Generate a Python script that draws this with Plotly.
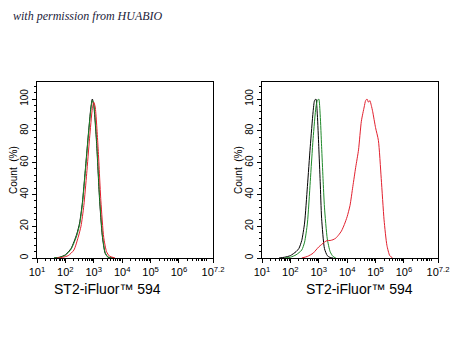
import math
import plotly.graph_objects as go

# ---- data (x = log10 fluorescence intensity, y = Count %) ----
left_black_x = [1.6, 1.8, 2.0, 2.2, 2.4, 2.5, 2.6, 2.7, 2.8, 2.9, 2.95, 3.0, 3.1, 3.2, 3.3, 3.4, 3.5, 3.7]
left_black_y = [0, 0.5, 2, 6, 15, 22, 35, 55, 76, 95, 100, 96, 72, 38, 14, 3, 0.5, 0]
left_green_x = [1.6, 1.8, 2.0, 2.2, 2.4, 2.5, 2.6, 2.7, 2.8, 2.9, 2.95, 3.0, 3.1, 3.2, 3.3, 3.4, 3.5, 3.7]
left_green_y = [0, 0.4, 1.8, 5.5, 14, 21, 34, 54, 75, 94, 99, 97, 74, 40, 15, 3.5, 0.6, 0]
left_red_x = [1.7, 1.9, 2.1, 2.3, 2.45, 2.55, 2.65, 2.75, 2.85, 2.95, 3.0, 3.05, 3.15, 3.25, 3.35, 3.45, 3.55, 3.75]
left_red_y = [0, 0.4, 1.5, 5, 13, 20, 33, 53, 75, 94, 98, 95, 70, 36, 13, 4, 1.2, 0]

right_black_x = [1.6, 1.8, 2.0, 2.2, 2.3, 2.4, 2.5, 2.6, 2.7, 2.8, 2.85, 2.9, 2.95, 3.0, 3.05, 3.1, 3.2, 3.3, 3.4, 3.5]
right_black_y = [0, 0.5, 1.5, 4, 6, 11, 22, 45, 70, 92, 99, 100, 90, 70, 48, 25, 6, 1.5, 0.3, 0]
right_green_x = [1.8, 2.0, 2.2, 2.4, 2.5, 2.6, 2.7, 2.8, 2.9, 2.95, 3.0, 3.05, 3.1, 3.15, 3.2, 3.3, 3.4, 3.5, 3.6]
right_green_y = [0, 0.5, 2, 5, 10, 22, 48, 75, 95, 99, 100, 90, 70, 50, 32, 12, 4, 1, 0]
right_red_x = [2.4, 2.6, 2.8, 2.9, 3.0, 3.1, 3.2, 3.3, 3.4, 3.5, 3.6, 3.7, 3.8, 3.9, 4.0, 4.1, 4.2, 4.3,
               4.4, 4.5, 4.6, 4.65, 4.7, 4.75, 4.8, 4.85, 4.9, 5.0, 5.1, 5.2, 5.3, 5.4, 5.5, 5.6]
right_red_y = [0, 1, 3, 5, 7, 8.5, 10, 11, 11, 11.5, 12.5, 14.5, 17, 21, 26, 33, 45, 57,
               68, 86, 95, 99, 100, 98, 99, 96, 92, 82, 74, 50, 24, 8, 1.5, 0]

x_tick_vals = [1, 2, 3, 4, 5, 6, 7.2]
x_tick_text = ["10<sup>1</sup>", "10<sup>2</sup>", "10<sup>3</sup>", "10<sup>4</sup>",
               "10<sup>5</sup>", "10<sup>6</sup>", "10<sup>7.2</sup>"]
y_tick_vals = [0, 20, 40, 60, 80, 100]
x_title = "ST2-iFluor™ 594"
y_title = "Count  (%)"
credit = "with permission from HUABIO"

BLACK = "#000000"
GREEN = "#1f8a2a"
RED = "#e2202e"

minor_x = [math.log10(k * 10 ** n) for n in range(1, 8) for k in range(2, 10)
           if math.log10(k * 10 ** n) < 7.2]

W, H = 450, 360
def px_x(p):
    return p / W
def px_y(p):
    return 1 - p / H

fig = go.Figure()
panels = [
    ("x", "y", [(left_black_x, left_black_y, BLACK), (left_green_x, left_green_y, GREEN), (left_red_x, left_red_y, RED)]),
    ("x2", "y2", [(right_black_x, right_black_y, BLACK), (right_green_x, right_green_y, GREEN), (right_red_x, right_red_y, RED)]),
]
for xa, ya, curves in panels:
    for cx, cy, col in curves:
        fig.add_trace(go.Scatter(x=cx, y=cy, mode="lines", xaxis=xa, yaxis=ya,
                                 line=dict(color=col, width=1, shape="spline", smoothing=0.6),
                                 showlegend=False, hoverinfo="skip"))

common_x = dict(range=[1, 7.2], tickmode="array", tickvals=x_tick_vals, ticktext=x_tick_text,
                showline=True, linecolor="black", linewidth=1, mirror=True, showgrid=False,
                zeroline=False, ticks="outside", ticklen=4, tickcolor="black", automargin=False,
                tickfont=dict(family="Arial, Liberation Sans", size=11, color="black"),
                minor=dict(tickmode="array", tickvals=minor_x, ticks="outside", ticklen=2, tickcolor="black"))
common_y = dict(range=[0, 110.7], tickmode="array", tickvals=y_tick_vals, tickangle=-90,
                showline=True, linecolor="black", linewidth=1, mirror=True, showgrid=False,
                zeroline=False, ticks="outside", ticklen=4, tickcolor="black", automargin=False,
                tickfont=dict(family="Arial, Liberation Sans", size=10, color="black"),
                minor=dict(dtick=4, tick0=0, ticks="outside", ticklen=2, tickcolor="black"))

yd = [px_y(258), px_y(82)]
fig.update_layout(
    width=W, height=H, margin=dict(l=0, r=0, t=0, b=0, autoexpand=False),
    paper_bgcolor="white", plot_bgcolor="white",
    xaxis=dict(domain=[px_x(37), px_x(213)], anchor="y", **common_x),
    yaxis=dict(domain=yd, anchor="x", **common_y),
    xaxis2=dict(domain=[px_x(262), px_x(438)], anchor="y2", **common_x),
    yaxis2=dict(domain=yd, anchor="x2", **common_y),
)

annots = [
    dict(text="<i>" + credit + "</i>", x=px_x(11), y=px_y(16), xanchor="left", yanchor="middle",
         font=dict(family="Liberation Serif", size=12, color="#1c1c3a")),
    dict(text=x_title, x=px_x(107), y=px_y(289), xanchor="center", yanchor="middle",
         font=dict(family="Arial, Liberation Sans", size=14, color="black")),
    dict(text=x_title, x=px_x(359), y=px_y(289), xanchor="center", yanchor="middle",
         font=dict(family="Arial, Liberation Sans", size=14, color="black")),
    dict(text=y_title, x=px_x(13), y=px_y(170), xanchor="center", yanchor="middle", textangle=-90,
         font=dict(family="Arial, Liberation Sans", size=10, color="black")),
    dict(text=y_title, x=px_x(238), y=px_y(170), xanchor="center", yanchor="middle", textangle=-90,
         font=dict(family="Arial, Liberation Sans", size=10, color="black")),
]
for a in annots:
    a.update(xref="paper", yref="paper", showarrow=False)
fig.update_layout(annotations=annots)

fig.write_html("out.html", config={"displayModeBar": False},
               post_script="document.body.style.margin='0';document.body.style.overflow='hidden';")
